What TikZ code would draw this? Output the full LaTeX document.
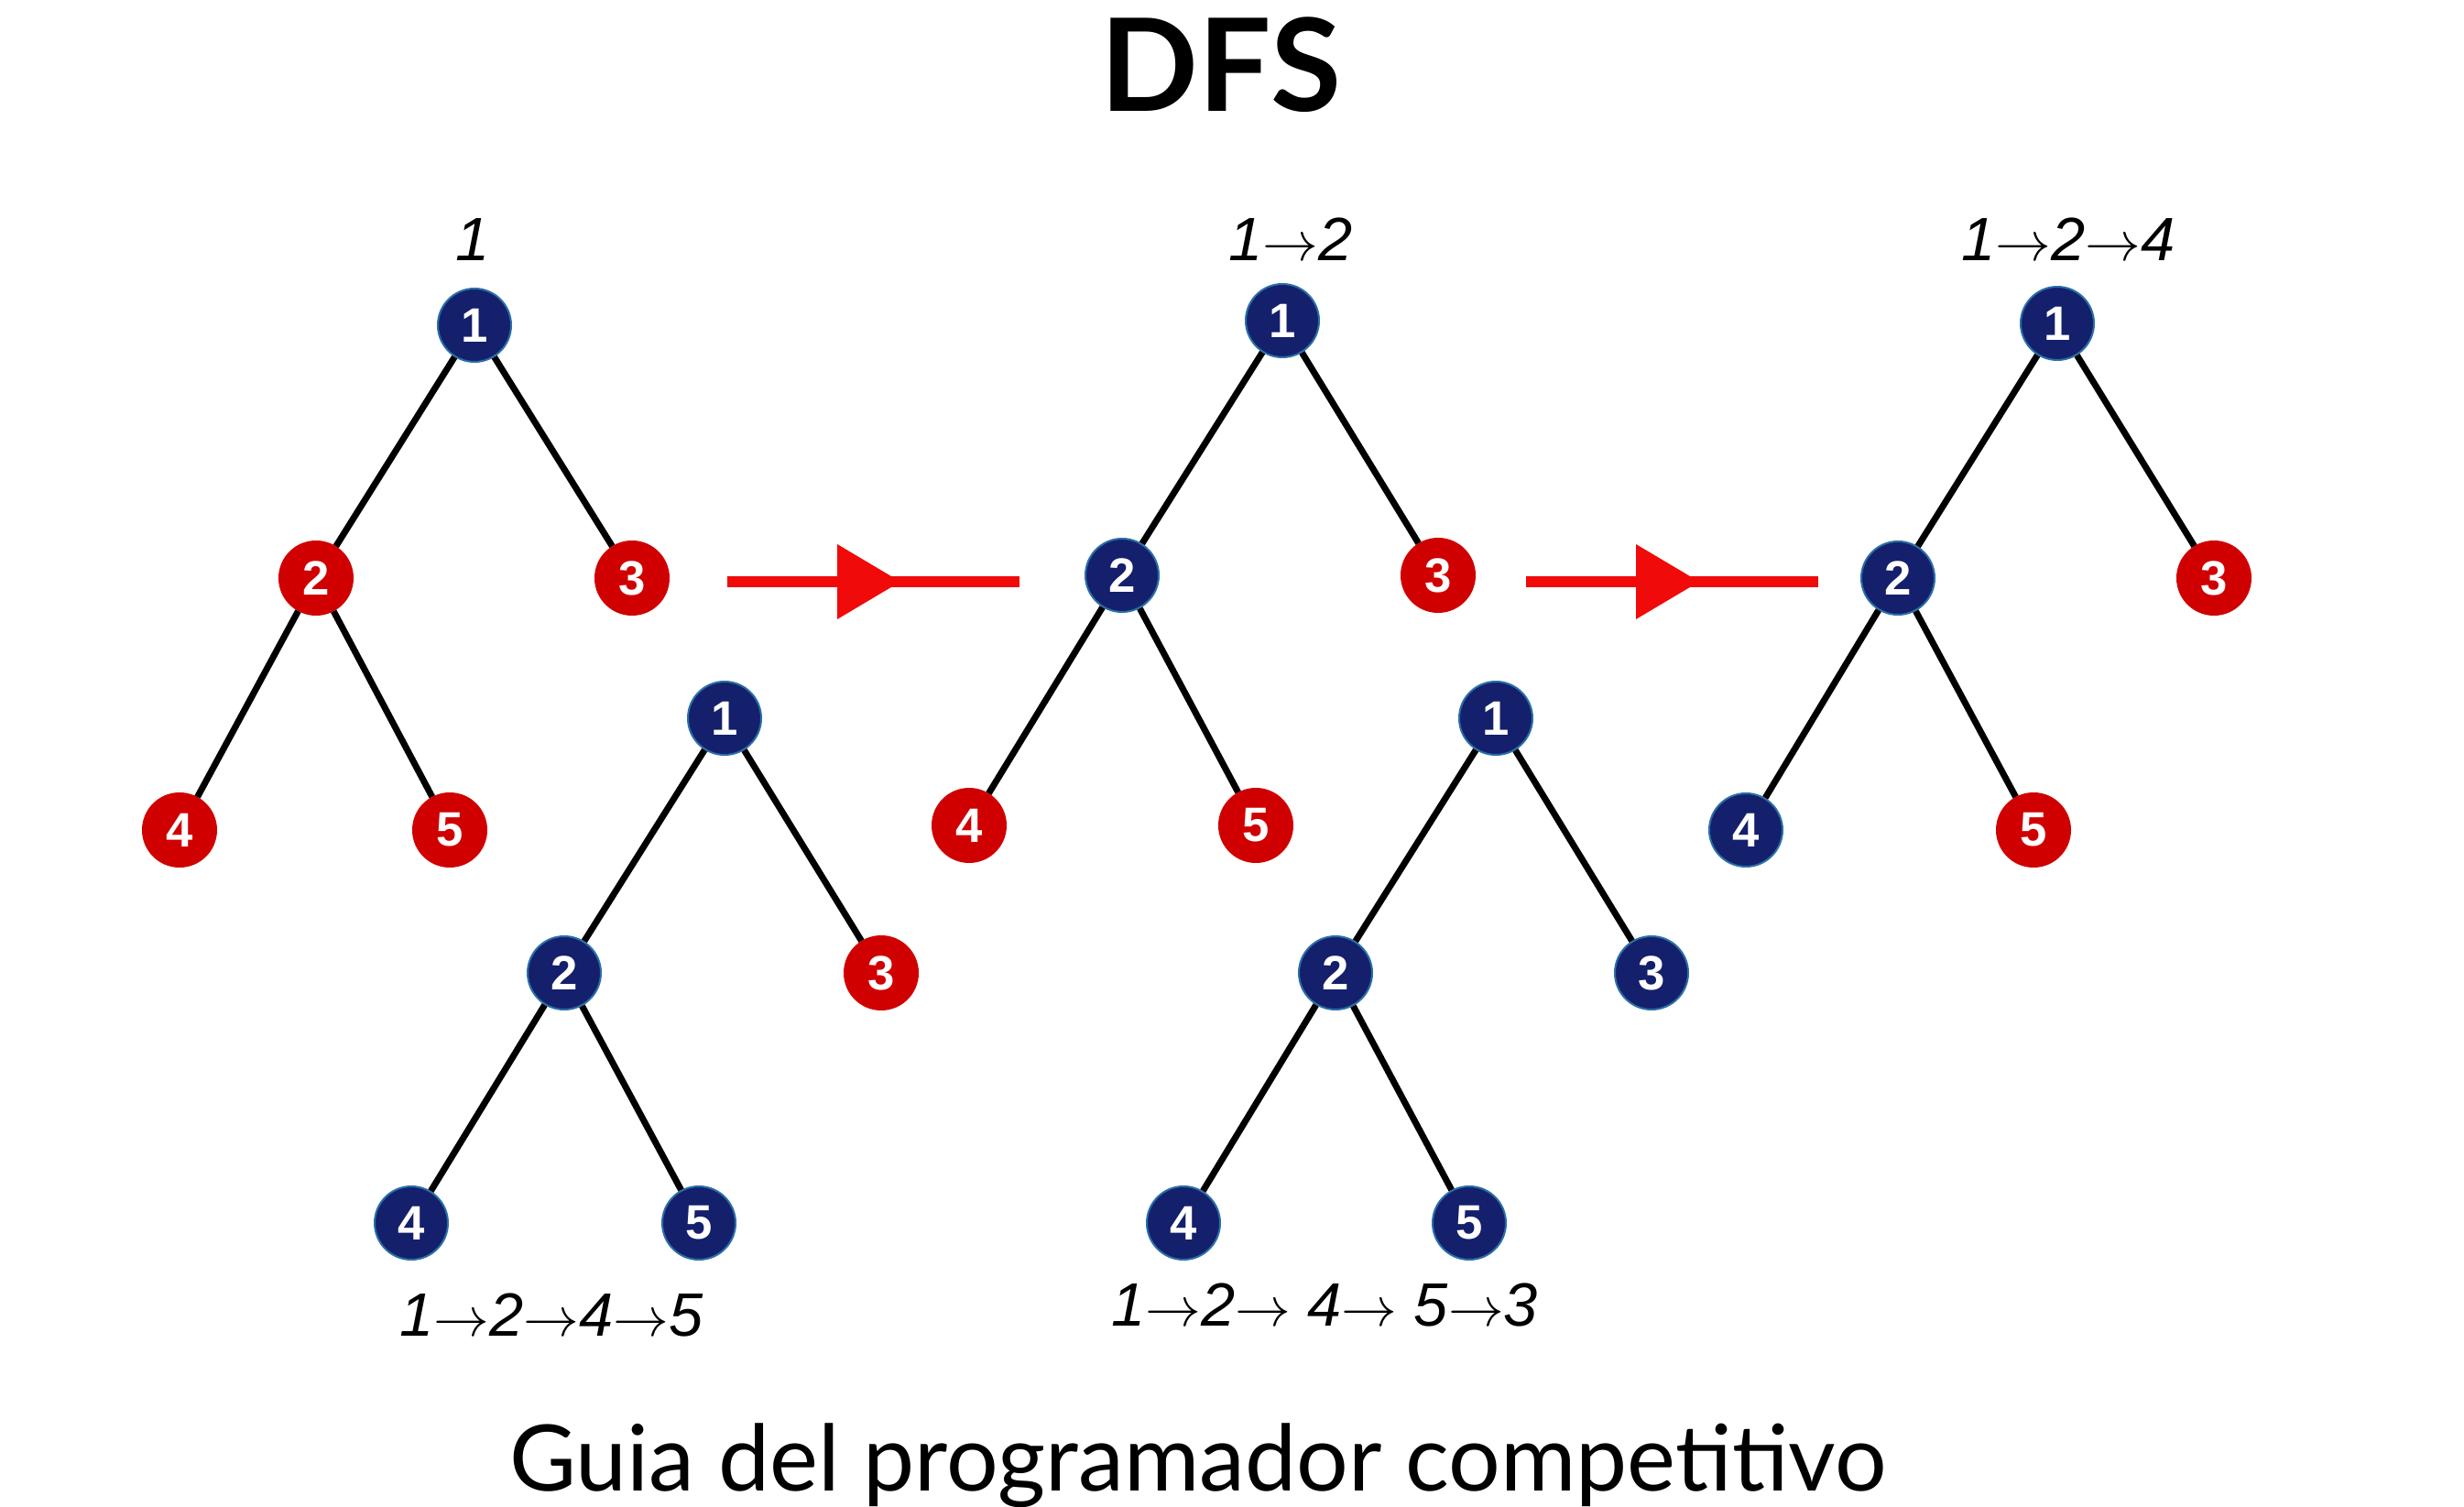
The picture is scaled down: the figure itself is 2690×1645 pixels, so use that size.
\documentclass[tikz,border=0pt]{standalone}
\usepackage{fontspec}
\usetikzlibrary{calc}
\newfontfamily\latofont{Lato}
\newfontfamily\arialfont{Liberation Sans}
\definecolor{navy}{HTML}{14206B}
\definecolor{nodered}{HTML}{D00000}
\definecolor{rim}{HTML}{2A6FA8}
\definecolor{arrowred}{HTML}{F00A0A}
\tikzset{
  vb/.style={circle, fill=navy, draw=rim, line width=0.2mm, minimum size=8mm, inner sep=0pt, text=white,
    font=\arialfont\bfseries\fontsize{15}{15}\selectfont},
  vr/.style={vb, fill=nodered, draw=nodered},
  edge/.style={line width=0.7mm, black},
  seq/.style={font=\arialfont\itshape\fontsize{19}{19}\selectfont, anchor=base, inner sep=0pt},
  bigline/.style={line width=1.2mm, arrowred},
  headfill/.style={fill=arrowred},
}
\newcommand{\ar}{\(\rightarrow\)}
\begin{document}
\begin{tikzpicture}[x=0.1mm, y=-0.1mm]
\useasboundingbox (0,0) rectangle (2690,1645);
% title
\node[anchor=base, inner sep=0pt, font=\latofont\bfseries\fontsize{40}{41}\selectfont] (title) at (1333,122) {DFS};
% tree 1
\node[vb] (a1) at (518,355) {1};
\node[vr] (a2) at (345,631) {2};
\node[vr] (a3) at (690,631) {3};
\node[vr] (a4) at (196,906) {4};
\node[vr] (a5) at (491,906) {5};
\draw[edge] (a1) -- (a2); \draw[edge] (a1) -- (a3);
\draw[edge] (a2) -- (a4); \draw[edge] (a2) -- (a5);
\node[seq] (la) at (516,285) {1};
% tree 2
\node[vb] (b1) at (791,784) {1};
\node[vb] (b2) at (616,1062) {2};
\node[vr] (b3) at (962,1062) {3};
\node[vb] (b4) at (449,1335) {4};
\node[vb] (b5) at (763,1335) {5};
\draw[edge] (b1) -- (b2); \draw[edge] (b1) -- (b3);
\draw[edge] (b2) -- (b4); \draw[edge] (b2) -- (b5);
\node[seq] (lb) at (602,1458) {1\ar2\ar4\ar5};
% tree 3
\node[vb] (c1) at (1400,350) {1};
\node[vb] (c2) at (1225,628) {2};
\node[vr] (c3) at (1570,628) {3};
\node[vr] (c4) at (1058,901) {4};
\node[vr] (c5) at (1371,901) {5};
\draw[edge] (c1) -- (c2); \draw[edge] (c1) -- (c3);
\draw[edge] (c2) -- (c4); \draw[edge] (c2) -- (c5);
\node[seq] (lc) at (1409,285) {1\ar2};
% tree 4
\node[vb] (d1) at (1633,784) {1};
\node[vb] (d2) at (1458,1062) {2};
\node[vb] (d3) at (1803,1062) {3};
\node[vb] (d4) at (1292,1335) {4};
\node[vb] (d5) at (1604,1335) {5};
\draw[edge] (d1) -- (d2); \draw[edge] (d1) -- (d3);
\draw[edge] (d2) -- (d4); \draw[edge] (d2) -- (d5);
\node[seq] (ld) at (1446,1448) {1\ar2\ar{} 4\ar{} 5\ar3};
% tree 5
\node[vb] (e1) at (2246,353) {1};
\node[vb] (e2) at (2072,631) {2};
\node[vr] (e3) at (2417,631) {3};
\node[vb] (e4) at (1906,906) {4};
\node[vr] (e5) at (2220,906) {5};
\draw[edge] (e1) -- (e2); \draw[edge] (e1) -- (e3);
\draw[edge] (e2) -- (e4); \draw[edge] (e2) -- (e5);
\node[seq] (le) at (2258,285) {1\ar2\ar4};
% red arrows
\coordinate (p1s) at (794,635); \coordinate (p1e) at (1113,635);
\draw[bigline] (p1s) -- (p1e);
\fill[headfill] ($(p1s)+(120,-41)$) -- ($(p1s)+(189,0)$) -- ($(p1s)+(120,41)$) -- cycle;
\coordinate (p2s) at (1666,635); \coordinate (p2e) at (1985,635);
\draw[bigline] (p2s) -- (p2e);
\fill[headfill] ($(p2s)+(120,-41)$) -- ($(p2s)+(189,0)$) -- ($(p2s)+(120,41)$) -- cycle;
% footer
\node[anchor=base, inner sep=0pt, font=\latofont\fontsize{28.5}{29}\selectfont] (foot) at (1308,1627) {Guia del programador competitivo};
\end{tikzpicture}
\end{document}
